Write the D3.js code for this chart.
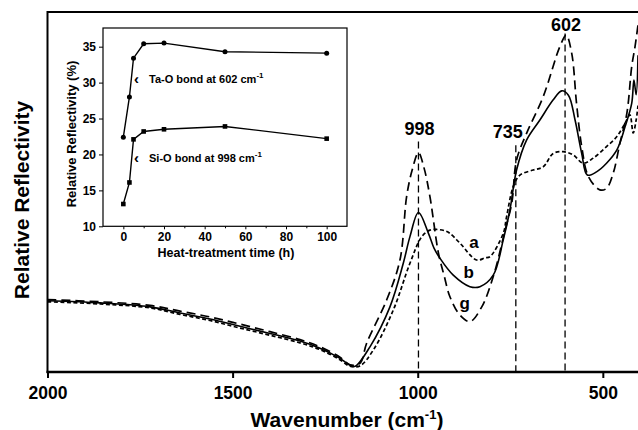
<!DOCTYPE html>
<html>
<head>
<meta charset="utf-8">
<script src="https://cdn.jsdelivr.net/npm/d3@7"></script>
<style>
	body { margin: 0; background: #fff; }
	svg { display: block; font-family: "Liberation Sans", Arial, sans-serif; font-weight: bold; }
</style>
</head>
<body>
<div id="chart"></div>
<script>
// main spectra: [wavenumber (cm-1), relative reflectivity (arb. units)]
var curveA = [
	[2000, 19.5], [1858, 18.9], [1723, 17.8], [1642, 16.0], [1561, 14.3],
	[1480, 12.2], [1399, 10.2], [1318, 8.1], [1264, 6.2], [1210, 3.4],
	[1183, 1.6], [1156, 1.7], [1120, 6.1], [1066, 17.2], [1021, 30.2], [989, 37.6],
	[967, 39.4], [949, 39.6], [926, 39.2], [913, 38.5], [886, 35.8], [841, 31.1],
	[818, 31.7], [805, 32.0], [769, 38.5], [760, 43.1], [742, 51.5], [724, 54.7],
	[688, 56.1], [661, 57.0], [634, 60.7], [607, 61.2], [580, 60.3], [553, 58.0],
	[526, 59.4], [490, 62.6], [462, 65.4], [440, 69.1], [427, 71.4], [418, 66.4],
	[410, 70.0], [405, 74.0]
];
var curveB = [
	[2000, 19.8], [1858, 19.2], [1723, 18.1], [1642, 16.4], [1561, 14.7],
	[1480, 12.7], [1399, 10.7], [1318, 8.6], [1264, 6.6], [1210, 3.8],
	[1183, 1.9], [1169, 1.6], [1129, 7.0], [1075, 18.1], [1039, 30.2], [1021, 37.6],
	[998, 44.3], [971, 38.5], [956, 34.4], [940, 31.6], [904, 26.9], [859, 23.7],
	[832, 23.7], [796, 26.9], [769, 36.7], [751, 45.0], [733, 56.1], [706, 64.4],
	[670, 70.0], [634, 75.6], [611, 78.1], [593, 76.9], [575, 70.0], [557, 60.7],
	[542, 54.7], [517, 55.6], [490, 58.0], [462, 61.7], [440, 68.1], [422, 74.6],
	[416, 81.1], [410, 77.0], [405, 88.0]
];
var curveG = [
	[2000, 20.1], [1858, 19.5], [1723, 18.5], [1642, 16.9], [1561, 15.3],
	[1480, 13.3], [1399, 11.2], [1318, 9.0], [1264, 7.0], [1210, 4.1],
	[1183, 2.0], [1156, 2.4], [1138, 8.0], [1084, 20.0], [1048, 31.1], [1030, 48.7],
	[1015, 56.1], [998, 60.9], [983, 56.7], [967, 48.7], [944, 33.0], [929, 26.9],
	[913, 20.9], [886, 15.8], [859, 14.0], [827, 18.1], [796, 26.5], [764, 39.4],
	[746, 46.9], [733, 58.9], [706, 66.3], [661, 76.5], [616, 90.4], [599, 93.6],
	[584, 88.5], [571, 74.6], [557, 62.6], [539, 54.3], [508, 50.6], [490, 51.0],
	[472, 55.2], [454, 63.5], [435, 71.9], [422, 84.8], [413, 90.4], [405, 96.4]
];

// marked peaks
var peakWn = [998, 735, 602];
var peakTop = [64, 63, 94];
var peakLabels = ["998", "735", "602"];

// curve labels a, b, g
var curveLabels = ["a", "b", "g"];
var curveLabelAt = [[848, 34.5], [862, 26], [873, 17.5]];

// inset data
var hours = [0, 3, 5, 10, 20, 50, 100];
var taO = [22.4, 28.0, 33.4, 35.4, 35.5, 34.3, 34.1];
var siO = [13.1, 16.1, 22.1, 23.2, 23.5, 23.9, 22.2];

var width = 638, height = 430;

var svg = d3.select("#chart").append("svg")
	.attr("width", width)
	.attr("height", height);

// main scales
var x = d3.scaleLinear().domain([2000, 405]).range([47.5, 638]);
var y = d3.scaleLinear().domain([0, 100]).range([372, 12]);

// clip to the plotting window
svg.append("clipPath").attr("id", "plotclip")
  .append("rect").attr("x", 47.5).attr("y", 0).attr("width", 600).attr("height", 372);

var line = d3.line()
	.x(function(d) { return x(d[0]); })
	.y(function(d) { return y(d[1]); })
	.curve(d3.curveCatmullRom.alpha(0.5));

var plot = svg.append("g").attr("clip-path", "url(#plotclip)");

// vertical reference lines at the peaks
plot.selectAll(".peakline")
	.data(peakWn)
  .enter().append("line")
	.attr("class", "peakline")
	.attr("x1", function(d) { return x(d); })
	.attr("x2", function(d) { return x(d); })
	.attr("y1", function(d, i) { return y(peakTop[i]); })
	.attr("y2", y(0))
	.style("stroke", "#000")
	.style("stroke-width", 1.3)
	.style("stroke-dasharray", "7,4");

var series = [
	{ data: curveA, dash: "4,2.5", w: 1.7 },
	{ data: curveB, dash: null, w: 1.6 },
	{ data: curveG, dash: "9,5", w: 1.7 }
];

plot.selectAll(".spectrum")
	.data(series)
  .enter().append("path")
	.attr("class", "spectrum")
	.attr("d", function(d) { return line(d.data); })
	.style("fill", "none")
	.style("stroke", "#000")
	.style("stroke-width", function(d) { return d.w; })
	.style("stroke-dasharray", function(d) { return d.dash; });

// peak labels
svg.selectAll(".peaklabel")
	.data(peakLabels)
  .enter().append("text")
	.attr("class", "peaklabel")
	.attr("x", function(d, i) { return x(peakWn[i]) + (i == 1 ? -8 : 1); })
	.attr("y", function(d, i) { return y(peakTop[i]) - (i == 2 ? 3 : 7); })
	.attr("text-anchor", "middle")
	.style("font-size", "18px")
	.text(function(d) { return d; });

svg.selectAll(".curvelabel")
	.data(curveLabels)
  .enter().append("text")
	.attr("class", "curvelabel")
	.attr("x", function(d, i) { return x(curveLabelAt[i][0]); })
	.attr("y", function(d, i) { return y(curveLabelAt[i][1]); })
	.attr("text-anchor", "middle")
	.style("font-size", "17px")
	.text(function(d) { return d; });

// frame
svg.append("line").attr("x1", 47.5).attr("x2", 638).attr("y1", 12).attr("y2", 12)
	.style("stroke", "#000").style("stroke-width", 2);
svg.append("line").attr("x1", 47.5).attr("x2", 47.5).attr("y1", 11).attr("y2", 373)
	.style("stroke", "#000").style("stroke-width", 2);

// x axis
var xAxis = d3.axisBottom(x)
	.tickValues([2000, 1500, 1000, 500])
	.tickSize(6)
	.tickPadding(9)
	.tickFormat(d3.format("d"));

var gx = svg.append("g")
	.attr("transform", "translate(0," + 372 + ")")
	.call(xAxis);
gx.select(".domain").remove();
gx.selectAll("line").style("stroke-width", 2);
gx.selectAll("text").style("font-size", "17.5px").style("font-weight", "bold").style("font-family", "Liberation Sans, Arial, sans-serif");
svg.append("line").attr("x1", 46.5).attr("x2", 638).attr("y1", 372).attr("y2", 372)
	.style("stroke", "#000").style("stroke-width", 2.5);

// axis titles
var xt = svg.append("text")
	.attr("x", 347)
	.attr("y", 427)
	.attr("text-anchor", "middle")
	.style("font-size", "21px");
xt.append("tspan").text("Wavenumber (cm");
xt.append("tspan").attr("dy", -8).style("font-size", "13px").text("-1");
xt.append("tspan").attr("dy", 8).text(")");

svg.append("text")
	.attr("transform", "translate(29,200) rotate(-90)")
	.attr("text-anchor", "middle")
	.style("font-size", "21px")
	.text("Relative Reflectivity");

// ---------- inset ----------
var xi = d3.scaleLinear().domain([-10, 110]).range([103, 347]);
var yi = d3.scaleLinear().domain([10, 37.6]).range([226.3, 28]);

var inset = svg.append("g");

inset.append("rect")
	.attr("x", 103).attr("y", 28)
	.attr("width", 244).attr("height", 198.3)
	.style("fill", "#fff")
	.style("stroke", "#000")
	.style("stroke-width", 1.2);

var xiAxis = d3.axisBottom(xi).tickValues([0, 20, 40, 60, 80, 100]).tickSize(3).tickPadding(3);
var yiAxis = d3.axisLeft(yi).tickValues([10, 15, 20, 25, 30, 35]).tickSize(4).tickPadding(3);

var gxi = inset.append("g").attr("transform", "translate(0,226.3)").call(xiAxis);
var gyi = inset.append("g").attr("transform", "translate(103,0)").call(yiAxis);
inset.append("g").attr("transform", "translate(0,226.3)")
	.call(d3.axisBottom(xi).tickValues([10, 30, 50, 70, 90]).tickSize(2).tickFormat(""))
	.select(".domain").remove();
gxi.select(".domain").remove();
gyi.select(".domain").remove();
inset.selectAll(".tick text")
	.style("font-size", "12px")
	.style("font-weight", "bold")
	.style("font-family", "Liberation Sans, Arial, sans-serif");

var ln = d3.line()
	.x(function(d, i) { return xi(hours[i]); })
	.y(function(d) { return yi(d); });

inset.append("path").attr("d", ln(taO))
	.style("fill", "none").style("stroke", "#000").style("stroke-width", 1.4);
inset.append("path").attr("d", ln(siO))
	.style("fill", "none").style("stroke", "#000").style("stroke-width", 1.4);

inset.selectAll(".dotTa")
	.data(taO)
  .enter().append("circle")
	.attr("class", "dotTa")
	.attr("cx", function(d, i) { return xi(hours[i]); })
	.attr("cy", function(d) { return yi(d); })
	.attr("r", 2.5)
	.style("fill", "#000");

inset.selectAll(".dotSi")
	.data(siO)
  .enter().append("rect")
	.attr("class", "dotSi")
	.attr("x", function(d, i) { return xi(hours[i]) - 2.3; })
	.attr("y", function(d) { return yi(d) - 2.3; })
	.attr("width", 4.6)
	.attr("height", 4.6)
	.style("fill", "#000");

// series labels with small arrows
var notes = [
	{ t: "Ta-O bond at 602 cm", v: 30.5 },
	{ t: "Si-O bond at 998 cm", v: 19.5 }
];
notes.forEach(function(n) {
	inset.append("text")
		.attr("x", 134)
		.attr("y", yi(n.v) + 5)
		.style("font-size", "15px")
		.text("\u2039");
	var t = inset.append("text")
		.attr("x", 149)
		.attr("y", yi(n.v) + 4)
		.style("font-size", "11px");
	t.append("tspan").text(n.t);
	t.append("tspan").attr("dy", -5).style("font-size", "8px").text("-1");
});

inset.append("text")
	.attr("x", 226)
	.attr("y", 257)
	.attr("text-anchor", "middle")
	.style("font-size", "12.5px")
	.text("Heat-treatment time (h)");

inset.append("text")
	.attr("transform", "translate(76,134) rotate(-90)")
	.attr("text-anchor", "middle")
	.style("font-size", "13px")
	.text("Relative Reflectivity (%)");
</script>
</body>
</html>
